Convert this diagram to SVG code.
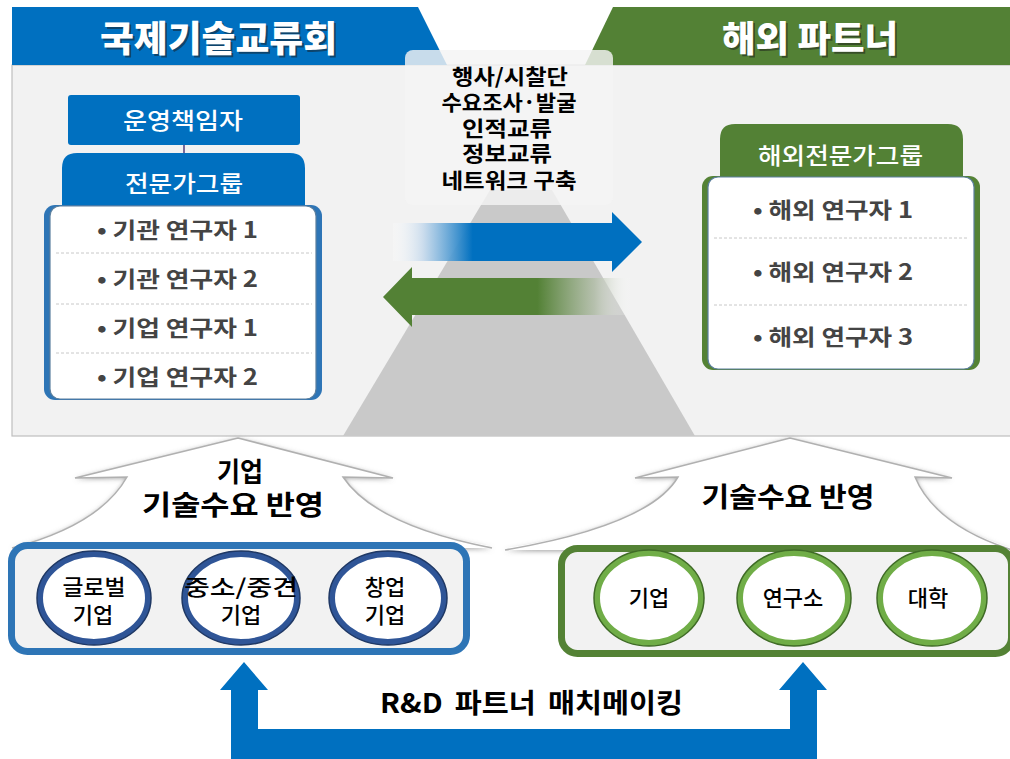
<svg xmlns="http://www.w3.org/2000/svg" width="1010" height="759" viewBox="0 0 1010 759">
<style>
text{font-family:"Noto Sans CJK KR","Noto Sans",sans-serif;text-anchor:middle}
.title{font-size:36px;font-weight:900;fill:#fff}
.tshadow{font-size:36px;font-weight:900;fill:#1a1a1a;opacity:.5}
.box{font-size:23px;font-weight:500;fill:#fff}
.item{font-size:22px;font-weight:700;fill:#444}
.mid{font-size:21px;font-weight:700;fill:#000}
.need{font-size:27px;font-weight:700;fill:#000}
.circ{font-size:22px;font-weight:500;fill:#000}
.div{stroke:#c8c8c8;stroke-width:1;stroke-dasharray:3 2}
.chevfill{fill:#fff}
.chevline{fill:none;stroke:#b0b0b0;stroke-width:1.5}
.bring{fill:#fff;stroke:#2f5597;stroke-width:6}
.bedge{fill:none;stroke:#1f3864;stroke-width:1.5}
.gring{fill:#fff;stroke:#70ad47;stroke-width:6}
.gedge{fill:none;stroke:#3f6b26;stroke-width:1.5}
</style>
<defs>
<linearGradient id="gBlue" gradientUnits="userSpaceOnUse" x1="393" y1="0" x2="642" y2="0">
<stop offset="0" stop-color="#ffffff" stop-opacity="0.2"/>
<stop offset="0.12" stop-color="#c5d9ec" stop-opacity="0.85"/>
<stop offset="0.32" stop-color="#0070c0"/>
<stop offset="1" stop-color="#0070c0"/>
</linearGradient>
<linearGradient id="gGreen" gradientUnits="userSpaceOnUse" x1="383" y1="0" x2="632" y2="0">
<stop offset="0" stop-color="#538135"/>
<stop offset="0.62" stop-color="#538135"/>
<stop offset="0.85" stop-color="#b3bfa9" stop-opacity="0.85"/>
<stop offset="1" stop-color="#ffffff" stop-opacity="0"/>
</linearGradient>
<filter id="sh" x="-10%" y="-10%" width="120%" height="130%">
<feDropShadow dx="0" dy="1" stdDeviation="2.5" flood-color="#707070" flood-opacity="0.7"/>
</filter>
</defs>

<g id="panel">
<rect x="12" y="65" width="1010" height="371" fill="#f2f2f2" stroke="#bfbfbf" stroke-width="1.2"/>
<polygon points="490,190 552,190 695,436 343,436" fill="#c9c9c9"/>
</g>

<g id="header-left">
<polygon points="12,7 418,7 447,65 12,65" fill="#0070c0"/>
<text class="tshadow" x="220.5" y="54" textLength="237" lengthAdjust="spacingAndGlyphs">국제기술교류회</text>
<text class="title" x="218.5" y="52" textLength="237" lengthAdjust="spacingAndGlyphs">국제기술교류회</text>
</g>
<g id="header-right">
<polygon points="613,7 1010,7 1010,65 585,65" fill="#538135"/>
<text class="tshadow" x="812" y="54" textLength="176" lengthAdjust="spacingAndGlyphs">해외 파트너</text>
<text class="title" x="810" y="52" textLength="176" lengthAdjust="spacingAndGlyphs">해외 파트너</text>
</g>

<g id="activities">
<rect x="405" y="50" width="208" height="155" rx="8" fill="#f4f4f4" fill-opacity="0.82"/>
<text class="mid"><tspan x="510" y="83.5" textLength="116" lengthAdjust="spacingAndGlyphs">행사/시찰단</tspan><tspan x="509" y="109.5" textLength="135" lengthAdjust="spacingAndGlyphs">수요조사·발굴</tspan><tspan x="507" y="135.5" textLength="90" lengthAdjust="spacingAndGlyphs">인적교류</tspan><tspan x="507" y="160.5" textLength="90" lengthAdjust="spacingAndGlyphs">정보교류</tspan><tspan x="509" y="187.5" textLength="135" lengthAdjust="spacingAndGlyphs">네트워크 구축</tspan></text>
</g>

<g id="connectors">
<line x1="184" y1="145" x2="184" y2="154" stroke="#7a6a9a" stroke-width="2"/>
<path d="M393,223 L612,223 L612,212 L642,242 L612,272 L612,261 L393,261 Z" fill="url(#gBlue)"/>
<path d="M383,297 L412,267 L412,278 L632,278 L632,315 L412,315 L412,327 Z" fill="url(#gGreen)"/>
<path d="M231,690 L220,690 L244,662 L268,690 L258,690 L258,729 L790,729 L790,690 L779,690 L803,662 L827,690 L817,690 L817,762 L231,762 Z" fill="#0070c0"/>
</g>

<g id="manager">
<rect x="68" y="95" width="232" height="50" rx="3" fill="#0070c0"/>
<text class="box" x="183" y="128.5" textLength="120" lengthAdjust="spacingAndGlyphs">운영책임자</text>
</g>

<g id="expert-group">
<path d="M62,210 L62,168 Q62,153 77,153 L290,153 Q305,153 305,168 L305,210 Z" fill="#0070c0"/>
<text class="box" x="184" y="191.5" textLength="118" lengthAdjust="spacingAndGlyphs">전문가그룹</text>
<rect x="44" y="205" width="278" height="195" rx="11" fill="#2e75b6"/>
<rect x="50" y="206" width="266" height="193" rx="10" fill="#fff" stroke="#5b7f9e" stroke-width="1.2"/>
<line class="div" x1="56" y1="253" x2="312" y2="253"/>
<line class="div" x1="56" y1="304" x2="312" y2="304"/>
<line class="div" x1="56" y1="353" x2="312" y2="353"/>
<text class="item" x="177.5" y="238" textLength="161" lengthAdjust="spacingAndGlyphs">•  기관 연구자 1</text>
<text class="item" x="177.5" y="287" textLength="161" lengthAdjust="spacingAndGlyphs">•  기관 연구자 2</text>
<text class="item" x="177.5" y="336" textLength="161" lengthAdjust="spacingAndGlyphs">•  기업 연구자 1</text>
<text class="item" x="177.5" y="385" textLength="161" lengthAdjust="spacingAndGlyphs">•  기업 연구자 2</text>
</g>

<g id="overseas-group">
<path d="M720,182 L720,139 Q720,124 735,124 L948,124 Q963,124 963,139 L963,182 Z" fill="#538135"/>
<text class="box" x="840.5" y="163.5" textLength="165" lengthAdjust="spacingAndGlyphs">해외전문가그룹</text>
<rect x="702" y="176" width="278" height="194" rx="11" fill="#548235"/>
<rect x="708" y="177" width="266" height="192" rx="10" fill="#fff" stroke="#5b7f9e" stroke-width="1.2"/>
<line class="div" x1="714" y1="238" x2="968" y2="238"/>
<line class="div" x1="714" y1="305" x2="968" y2="305"/>
<text class="item" x="833" y="218" textLength="160" lengthAdjust="spacingAndGlyphs">•  해외 연구자 1</text>
<text class="item" x="833" y="280" textLength="160" lengthAdjust="spacingAndGlyphs">•  해외 연구자 2</text>
<text class="item" x="833" y="345" textLength="160" lengthAdjust="spacingAndGlyphs">•  해외 연구자 3</text>
</g>

<g id="need-left">
<path class="chevfill" filter="url(#sh)" d="M238,438 L75,478 L127,477 Q100,525 12,548 L492,548 Q375,525 343,477 L393,478 Z"/>
<path class="chevfill" d="M238,440 L80,477 L127,477 Q100,525 14,546 L490,546 Q375,525 343,477 L390,478 Z"/>
<path class="chevline" d="M12,548 Q100,525 127,477 L75,478 L238,438 L393,478 L343,477 Q375,525 492,548"/>
<text class="need"><tspan x="240" y="482" textLength="46" lengthAdjust="spacingAndGlyphs">기업</tspan><tspan x="233" y="515" textLength="182" lengthAdjust="spacingAndGlyphs">기술수요 반영</tspan></text>
</g>
<g id="need-right">
<path class="chevfill" filter="url(#sh)" d="M790,438 L635,478 L678,477 Q650,525 505,550 L1012,550 Q935,525 915,477 L952,478 Z"/>
<path class="chevfill" d="M790,440 L640,477 L678,477 Q650,525 507,548 L1012,548 Q935,525 915,477 L948,478 Z"/>
<path class="chevline" d="M505,550 Q650,525 678,477 L635,478 L790,438 L952,478 L915,477 Q935,525 1012,550"/>
<text class="need" x="788" y="507" textLength="173" lengthAdjust="spacingAndGlyphs">기술수요 반영</text>
</g>

<g id="companies">
<rect x="11.5" y="545.5" width="455" height="106" rx="16" fill="#f2f2f2" stroke="#2e75b6" stroke-width="7"/>
<g id="c-global">
<ellipse class="bring" cx="94" cy="598" rx="54" ry="44"/>
<ellipse class="bedge" cx="94" cy="598" rx="57" ry="47"/>
<text class="circ"><tspan x="94" y="595" textLength="63" lengthAdjust="spacingAndGlyphs">글로벌</tspan><tspan x="93" y="622.5">기업</tspan></text>
</g>
<g id="c-sme">
<ellipse class="bring" cx="241" cy="598" rx="56" ry="44"/>
<ellipse class="bedge" cx="241" cy="598" rx="59" ry="47"/>
<text class="circ"><tspan x="241" y="595" textLength="114" lengthAdjust="spacingAndGlyphs">중소/중견</tspan><tspan x="241" y="622.5">기업</tspan></text>
</g>
<g id="c-startup">
<ellipse class="bring" cx="388" cy="598" rx="56" ry="44"/>
<ellipse class="bedge" cx="388" cy="598" rx="59" ry="47"/>
<text class="circ"><tspan x="385" y="595">창업</tspan><tspan x="385" y="622.5">기업</tspan></text>
</g>
</g>

<g id="partners">
<rect x="561.5" y="548.5" width="450" height="105" rx="16" fill="#f2f2f2" stroke="#548235" stroke-width="7"/>
<g id="p-company">
<ellipse class="gring" cx="649" cy="598" rx="52" ry="45"/>
<ellipse class="gedge" cx="649" cy="598" rx="55" ry="48"/>
<text class="circ" x="649" y="606">기업</text>
</g>
<g id="p-institute">
<ellipse class="gring" cx="794" cy="598" rx="54" ry="45"/>
<ellipse class="gedge" cx="794" cy="598" rx="57" ry="48"/>
<text class="circ" x="793" y="606">연구소</text>
</g>
<g id="p-university">
<ellipse class="gring" cx="932" cy="598" rx="52" ry="45"/>
<ellipse class="gedge" cx="932" cy="598" rx="55" ry="48"/>
<text class="circ" x="928" y="606">대학</text>
</g>
</g>

<g id="matchmaking">
<text x="531.5" y="713" font-size="27" font-weight="700" fill="#000" word-spacing="5" textLength="303" lengthAdjust="spacingAndGlyphs">R&amp;D 파트너 매치메이킹</text>
</g>
</svg>
